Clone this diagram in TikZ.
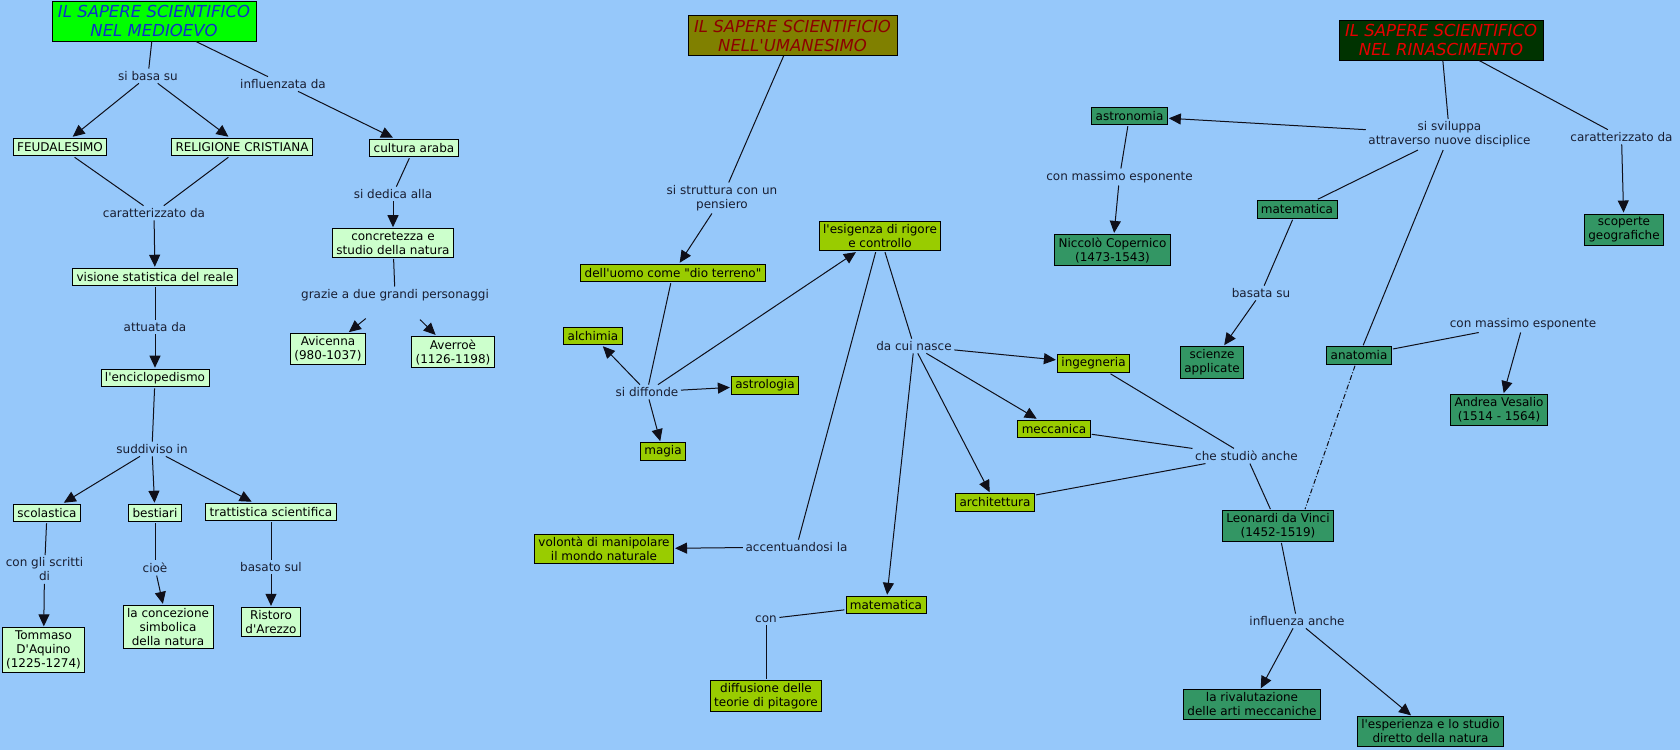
\documentclass[tikz,border=0pt]{standalone}
\usepackage{fontspec}
\setmainfont{DejaVu Sans}[Ligatures=TeXOff]
\usetikzlibrary{arrows.meta,calc}
\definecolor{bgc}{RGB}{150,200,250}
\definecolor{medfill}{RGB}{204,255,204}
\definecolor{medtitle}{RGB}{0,255,0}
\definecolor{medtext}{RGB}{16,48,200}
\definecolor{umfill}{RGB}{153,204,0}
\definecolor{umtitle}{RGB}{128,128,0}
\definecolor{umtext}{RGB}{140,0,0}
\definecolor{rinfill}{RGB}{51,150,100}
\definecolor{rintitle}{RGB}{0,51,0}
\definecolor{rintext}{RGB}{230,0,0}
\definecolor{labtext}{RGB}{25,30,50}
\definecolor{linec}{RGB}{15,15,25}
\newcommand\mapfont{\fontsize{12bp}{14bp}\selectfont}
\newcommand\ttlfont{\fontsize{16.5bp}{19bp}\selectfont\itshape}
\tikzset{
  box/.style={draw=black, line width=0.8bp, align=center, inner xsep=4bp, inner ysep=3bp,
    minimum height=17.5bp, outer sep=1.5bp, font=\mapfont, text=black},
  mbox/.style={box, fill=medfill},
  ubox/.style={box, fill=umfill},
  rbox/.style={box, fill=rinfill},
  lab/.style={align=center, inner sep=2.5bp, font=\mapfont, text=labtext},
  ttl/.style={draw=black, line width=0.8bp, align=center, inner xsep=6bp, inner ysep=3bp,
    minimum height=40bp, font=\ttlfont},
  con/.style={draw=linec, line width=1bp},
  arr/.style={con, -{Triangle[length=12bp,width=11bp]}},
}
\begin{document}
\begin{tikzpicture}[x=1bp,y=-1bp]
\path[use as bounding box, fill=bgc] (0,0) rectangle (1680,750);

% ---------- Medioevo ----------
\node[ttl, fill=medtitle, text=medtext] (tmed) at (154,21) {IL SAPERE SCIENTIFICO\\NEL MEDIOEVO};
\node[lab] (sibasa) at (148,76) {si basa su};
\node[lab] (influ) at (283,84) {influenzata da};
\node[mbox] (feud) at (60,147) {FEUDALESIMO};
\node[mbox] (relig) at (242,147) {RELIGIONE CRISTIANA};
\node[mbox] (araba) at (414,148) {cultura araba};
\node[lab] (caratt) at (154,213) {caratterizzato da};
\node[lab] (dedica) at (393,194) {si dedica alla};
\node[mbox] (concr) at (393,243) {concretezza e\\studio della natura};
\node[mbox] (visione) at (155,277) {visione statistica del reale};
\node[lab] (grazie) at (395,295) {grazie a due grandi personaggi};
\node[lab] (attuata) at (155,327) {attuata da};
\node[mbox] (avic) at (328,349) {Avicenna\\(980-1037)};
\node[mbox] (averr) at (453,352) {Averroè\\(1126-1198)};
\node[mbox] (encic) at (155,378) {l'enciclopedismo};
\node[lab] (suddiv) at (152,449) {suddiviso in};
\node[mbox] (scol) at (47,513) {scolastica};
\node[mbox] (best) at (155,513) {bestiari};
\node[mbox] (tratt) at (271,512) {trattistica scientifica};
\node[lab] (scritti) at (44.5,569.5) {con gli scritti\\di};
\node[lab] (cioe) at (155,568) {cioè};
\node[lab] (basato) at (271,567) {basato sul};
\node[mbox] (tomm) at (43.5,650) {Tommaso\\D'Aquino\\(1225-1274)};
\node[mbox] (conc) at (168,627) {la concezione\\simbolica\\della natura};
\node[mbox] (rist) at (271,622) {Ristoro\\d'Arezzo};

\draw[con] (tmed) -- (sibasa);
\draw[arr] (sibasa) -- (feud);
\draw[arr] (sibasa) -- (relig);
\draw[con] (tmed) -- (influ);
\draw[arr] (influ) -- (araba);
\draw[con] (feud) -- (caratt);
\draw[con] (relig) -- (caratt);
\draw[arr] (caratt) -- (visione);
\draw[con] (araba) -- (dedica);
\draw[arr] (dedica) -- (concr);
\draw[con] (concr) -- (grazie);
\draw[arr, shorten <=24bp] (grazie) -- (avic);
\draw[arr, shorten <=23bp] (grazie) -- (averr);
\draw[con] (visione) -- (attuata);
\draw[arr] (attuata) -- (encic);
\draw[con] (encic) -- (suddiv);
\draw[arr] (suddiv) -- (scol);
\draw[arr] (suddiv) -- (best);
\draw[arr] (suddiv) -- (tratt);
\draw[con] (scol) -- (scritti);
\draw[arr] (scritti) -- (tomm);
\draw[con] (best) -- (cioe);
\draw[arr] (cioe) -- (conc);
\draw[con] (tratt) -- (basato);
\draw[arr] (basato) -- (rist);

% ---------- Umanesimo ----------
\node[ttl, fill=umtitle, text=umtext] (tum) at (792.5,35.5) {IL SAPERE SCIENTIFICIO\\NELL'UMANESIMO};
\node[lab] (strutt) at (722,198) {si struttura con un\\pensiero};
\node[ubox] (esig) at (880,236) {l'esigenza di rigore\\e controllo};
\node[ubox] (uomo) at (673,273) {dell'uomo come "dio terreno"};
\node[ubox] (alch) at (593,336) {alchimia};
\node[lab] (dacui) at (914,346) {da cui nasce};
\node[ubox] (ingeg) at (1093.5,363.5) {ingegneria};
\node[lab] (diffonde) at (647,392) {si diffonde};
\node[ubox] (astrol) at (765,385.5) {astrologia};
\node[ubox] (magia) at (663,451.5) {magia};
\node[ubox] (mecc) at (1054,429) {meccanica};
\node[ubox] (arch) at (995,502.5) {architettura};
\node[ubox] (volonta) at (604,549) {volontà di manipolare\\il mondo naturale};
\node[lab] (accent) at (796.5,547) {accentuandosi la};
\node[ubox] (matu) at (886,605) {matematica};
\node[lab] (con) at (766,619) {con};
\node[ubox] (pitag) at (766,696) {diffusione delle\\teorie di pitagore};

\draw[con] (tum) -- (strutt);
\draw[arr] (strutt) -- (uomo);
\draw[con] (uomo) -- (diffonde);
\draw[arr] (diffonde) -- (alch);
\draw[arr] (diffonde) -- (astrol);
\draw[arr] (diffonde) -- (magia);
\draw[arr] (diffonde) -- (esig);
\draw[con] (esig) -- (dacui);
\draw[con] (esig) -- (accent);
\draw[arr] (accent) -- (volonta);
\draw[arr] (dacui) -- (ingeg);
\draw[arr] (dacui) -- (mecc);
\draw[arr] (dacui) -- (arch);
\draw[arr] (dacui) -- (matu);
\draw[con] (matu) -- (con);
\draw[con] (con) -- (pitag);

% ---------- Rinascimento ----------
\node[ttl, fill=rintitle, text=rintext] (trin) at (1441,40) {IL SAPERE SCIENTIFICO\\NEL RINASCIMENTO};
\node[rbox] (astron) at (1129.5,116) {astronomia};
\node[lab] (svil) at (1449.5,134.5) {si sviluppa\\attraverso nuove disciplice};
\node[lab] (caratt2) at (1621.5,137) {caratterizzato da};
\node[lab] (espon1) at (1119.5,177) {con massimo esponente};
\node[rbox] (matr) at (1297,209.5) {matematica};
\node[rbox] (scop) at (1624,229.5) {scoperte\\geografiche};
\node[rbox] (coper) at (1112.5,250) {Niccolò Copernico\\(1473-1543)};
\node[lab] (basata) at (1261,293) {basata su};
\node[lab] (espon2) at (1523,324) {con massimo esponente};
\node[rbox] (anat) at (1359,355.5) {anatomia};
\node[rbox] (scienze) at (1212,362.5) {scienze\\applicate};
\node[rbox] (vesal) at (1499,410) {Andrea Vesalio\\(1514 - 1564)};
\node[lab] (studio) at (1246.5,456) {che studiò anche};
\node[rbox] (leon) at (1278,526) {Leonardi da Vinci\\(1452-1519)};
\node[lab] (influ2) at (1297,621) {influenza anche};
\node[rbox] (rival) at (1252,704.5) {la rivalutazione\\ delle arti meccaniche};
\node[rbox] (esper) at (1430.5,731.5) {l'esperienza e lo studio\\diretto della natura};

\draw[con] (trin) -- (svil);
\draw[con] (trin) -- (caratt2);
\draw[arr] (caratt2) -- (scop);
\draw[arr] (svil) -- (astron);
\draw[con] (svil) -- (matr);
\draw[con] (svil) -- (anat);
\draw[con] (astron) -- (espon1);
\draw[arr] (espon1) -- (coper);
\draw[con] (matr) -- (basata);
\draw[arr] (basata) -- (scienze);
\draw[con] (anat) -- (espon2);
\draw[arr] (espon2) -- (vesal);
\draw[con, dash pattern=on 5bp off 2bp on 1bp off 2bp] ([xshift=-4bp]anat.south) -- ([xshift=27bp]leon.north);
\draw[con] (ingeg) -- (studio);
\draw[con] (mecc) -- (studio);
\draw[con] (arch) -- (studio);
\draw[con] (studio) -- (leon);
\draw[con] (leon) -- (influ2);
\draw[arr] (influ2) -- (rival);
\draw[arr] (influ2) -- (esper);
\end{tikzpicture}
\end{document}
